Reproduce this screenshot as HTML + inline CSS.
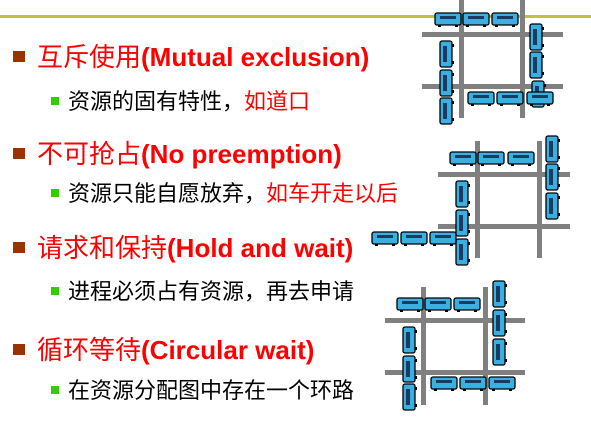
<!DOCTYPE html>
<html><head><meta charset="utf-8"><style>
html,body{margin:0;padding:0;background:#fff;}
svg{display:block;}
.m{font-family:"Liberation Sans","Noto Sans CJK SC",sans-serif;font-size:26px;fill:#ff0000;}
.s{font-family:"Liberation Sans","Noto Sans CJK SC",sans-serif;font-size:22px;fill:#000;}
.r{fill:#808080;}
.c{fill:#3ab0e2;stroke:#000;stroke-width:1.3;}
</style></head><body>
<svg width="591" height="422" viewBox="0 0 591 422" xmlns="http://www.w3.org/2000/svg">
<defs>
<g id="h"><rect class="c" x="0" y="0" width="26" height="12" rx="2"/><rect x="5" y="3" width="16" height="3" fill="#1a3a60"/><rect x="3" y="12" width="3" height="2" fill="#000"/><rect x="20" y="12" width="3" height="2" fill="#000"/></g>
<g id="v"><rect class="c" x="0" y="0" width="12" height="26" rx="2"/><rect x="3" y="5" width="4" height="16" fill="#1a3a60"/><rect x="12" y="3" width="2" height="3" fill="#000"/><rect x="12" y="20" width="2" height="3" fill="#000"/></g>
</defs>
<text x="40" y="-4" style="font-family:'Liberation Sans','Noto Sans CJK SC',sans-serif;font-size:24px;fill:#333">死锁发生的四个必要条件</text>
<rect x="0" y="15" width="591" height="3" fill="#c3c23e"/>

<!-- graphic 1 -->
<rect class="r" x="422" y="32" width="141" height="5"/><rect class="r" x="422" y="84" width="141" height="5"/>
<rect class="r" x="459" y="0" width="5" height="118"/><rect class="r" x="520" y="0" width="5" height="118"/>
<use href="#h" x="435" y="13"/><use href="#h" x="463" y="13"/><use href="#h" x="492" y="13"/>
<use href="#v" x="530" y="24"/><use href="#v" x="530" y="52"/><use href="#v" x="532" y="81"/>
<use href="#v" x="440" y="41"/><use href="#v" x="440" y="70"/><use href="#v" x="440" y="98"/>
<use href="#h" x="468" y="92"/><use href="#h" x="497" y="92"/><use href="#h" x="527" y="92"/>

<!-- graphic 2 -->
<rect class="r" x="438" y="172" width="132" height="5"/><rect class="r" x="438" y="224" width="132" height="5"/>
<rect class="r" x="475" y="141" width="5" height="117"/><rect class="r" x="537" y="141" width="5" height="117"/>
<use href="#h" x="450" y="152"/><use href="#h" x="478" y="152"/><use href="#h" x="508" y="152"/>
<use href="#v" x="546" y="136"/><use href="#v" x="546" y="164"/><use href="#v" x="546" y="193"/>
<use href="#v" x="456" y="181"/><use href="#v" x="456" y="210"/><use href="#v" x="456" y="239"/>
<use href="#h" x="372" y="232"/><use href="#h" x="401" y="232"/><use href="#h" x="430" y="232"/>

<!-- graphic 3 -->
<rect class="r" x="385" y="318" width="140" height="5"/><rect class="r" x="385" y="370" width="140" height="5"/>
<rect class="r" x="421" y="287" width="5" height="118"/><rect class="r" x="483" y="287" width="5" height="118"/>
<use href="#h" x="397" y="298"/><use href="#h" x="425" y="298"/><use href="#h" x="454" y="298"/>
<use href="#v" x="493" y="281"/><use href="#v" x="493" y="310"/><use href="#v" x="493" y="339"/>
<use href="#v" x="403" y="327"/><use href="#v" x="403" y="356"/><use href="#v" x="403" y="384"/>
<use href="#h" x="431" y="377"/><use href="#h" x="460" y="377"/><use href="#h" x="489" y="377"/>

<!-- text -->
<rect x="13" y="51" width="12" height="11" fill="#993300"/>
<text class="m" x="37" y="66">互斥使用<tspan font-weight="bold">(Mutual exclusion)</tspan></text>
<rect x="51" y="97" width="8" height="8" fill="#33cc00"/>
<text class="s" x="68" y="109">资源的固有特性，<tspan fill="#ff0000">如道口</tspan></text>

<rect x="13" y="148" width="12" height="11" fill="#993300"/>
<text class="m" x="37" y="163">不可抢占<tspan font-weight="bold">(No preemption)</tspan></text>
<rect x="51" y="189" width="8" height="8" fill="#33cc00"/>
<text class="s" x="68" y="201">资源只能自愿放弃，<tspan fill="#ff0000">如车开走以后</tspan></text>

<rect x="13" y="242" width="12" height="11" fill="#993300"/>
<text class="m" x="37" y="257">请求和保持<tspan font-weight="bold">(Hold and wait)</tspan></text>
<rect x="51" y="287" width="8" height="8" fill="#33cc00"/>
<text class="s" x="68" y="299">进程必须占有资源，再去申请</text>

<rect x="13" y="344" width="12" height="11" fill="#993300"/>
<text class="m" x="37" y="359">循环等待<tspan font-weight="bold">(Circular wait)</tspan></text>
<rect x="51" y="386" width="8" height="8" fill="#33cc00"/>
<text class="s" x="68" y="398">在资源分配图中存在一个环路</text>
</svg>
</body></html>
